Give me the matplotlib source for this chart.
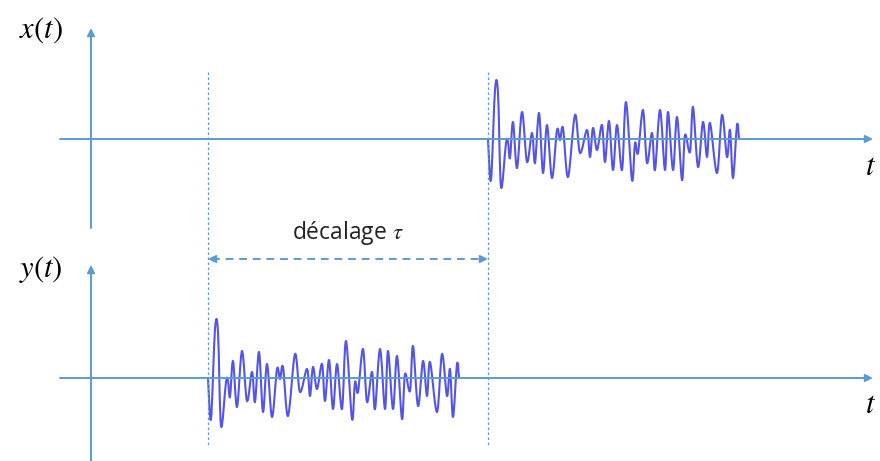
import matplotlib.pyplot as plt
from matplotlib.path import Path
from matplotlib.patches import PathPatch

plt.rcParams["mathtext.fontset"] = "stix"

# forme d'onde commune : instants depuis le début du signal et amplitude
sig_t = [0, 3, 7, 10, 13, 18, 20, 22, 25, 29, 34, 39, 44, 47, 51, 55, 59, 64, 69, 72,
         75, 80, 87, 92, 99, 102, 105, 109, 114, 117, 121, 125, 129, 134, 138, 144, 147, 150, 155, 159,
         164, 167, 172, 177, 180, 185, 189, 194, 197, 202, 205, 210, 215, 219, 222, 229, 234, 239, 242, 245,
         249, 251]
sig_a = [0, -41, 49, 46, -48, -4, -3, -19, 17, -29, 27, -23, 6, -24, 26, -34, 14, -39, 9, -1,
         11, -38, 24, -14, 9, -18, 11, -11, 14, -23, 18, -31, 14, -31, 37, -41, -4, -14, 29, -24,
         6, -31, 29, -31, 27, -31, 22, -41, 4, -13, 32, -28, 17, -18, 16, -34, 24, -18, 9, -39,
         14, 0]

t_x = 488   # début de x(t)
t_y = 208   # début de y(t) (en avance du décalage tau)

axis_c = "#5B9BD5"
sig_c = "#4141E6"

fig = plt.figure(figsize=(8.8, 4.61), dpi=100)
ax = fig.add_axes([0, 0, 1, 1])
ax.set_xlim(0, 880)
ax.set_ylim(461, 0)
ax.axis("off")


def arrow(x0, y0, x1, y1):
    ax.annotate("", xy=(x1, y1), xytext=(x0, y0),
                arrowprops=dict(arrowstyle="-|>", color=axis_c, lw=1.4,
                                mutation_scale=11, shrinkA=0, shrinkB=0))


def smooth_curve(xs, ys):
    # courbe de Catmull-Rom passant par chaque point, tracée en Bézier cubiques
    pts = list(zip(xs, ys))
    verts = [pts[0]]
    codes = [Path.MOVETO]
    for i in range(len(pts) - 1):
        p0 = pts[max(i - 1, 0)]
        p1 = pts[i]
        p2 = pts[i + 1]
        p3 = pts[min(i + 2, len(pts) - 1)]
        c1 = (p1[0] + (p2[0] - p0[0]) / 6, p1[1] + (p2[1] - p0[1]) / 6)
        c2 = (p2[0] - (p3[0] - p1[0]) / 6, p2[1] - (p3[1] - p1[1]) / 6)
        verts += [c1, c2, p2]
        codes += [Path.CURVE4] * 3
    ax.add_patch(PathPatch(Path(verts, codes), fill=False, edgecolor=sig_c,
                           lw=1.5, joinstyle="round", alpha=0.9))


# axes des deux voies
for y0, top, bottom in [(139, 28, 228), (378, 265, 461)]:
    arrow(60, y0, 873, y0)
    arrow(91, bottom, 91, top)

# signaux
smooth_curve([t_x + t for t in sig_t], [139 - a for a in sig_a])
smooth_curve([t_y + t for t in sig_t], [378 - a for a in sig_a])

# repères verticaux pointillés
for xv in (t_y, t_x):
    ax.plot([xv, xv], [72, 445], color=axis_c, lw=0.9, ls=(0, (2, 2)))

# flèche du décalage
ax.plot([t_y + 4, t_x - 4], [259, 259], color=axis_c, lw=1.4, ls=(0, (4, 3)))
arrow(t_y + 8, 259, t_y, 259)
arrow(t_x - 8, 259, t_x, 259)
ax.text((t_y + t_x) / 2, 233, "décalage $\\tau$", fontsize=16.5, family="Open Sans",
        ha="center", va="center", color="#222222")

# étiquettes
ax.text(41, 30, "$x(t)$", fontsize=22, ha="center", va="center")
ax.text(41, 269, "$y(t)$", fontsize=22, ha="center", va="center")
ax.text(871, 166, "$t$", fontsize=22, ha="center", va="center")
ax.text(871, 404, "$t$", fontsize=22, ha="center", va="center")

fig.savefig("out.png", dpi=100)
